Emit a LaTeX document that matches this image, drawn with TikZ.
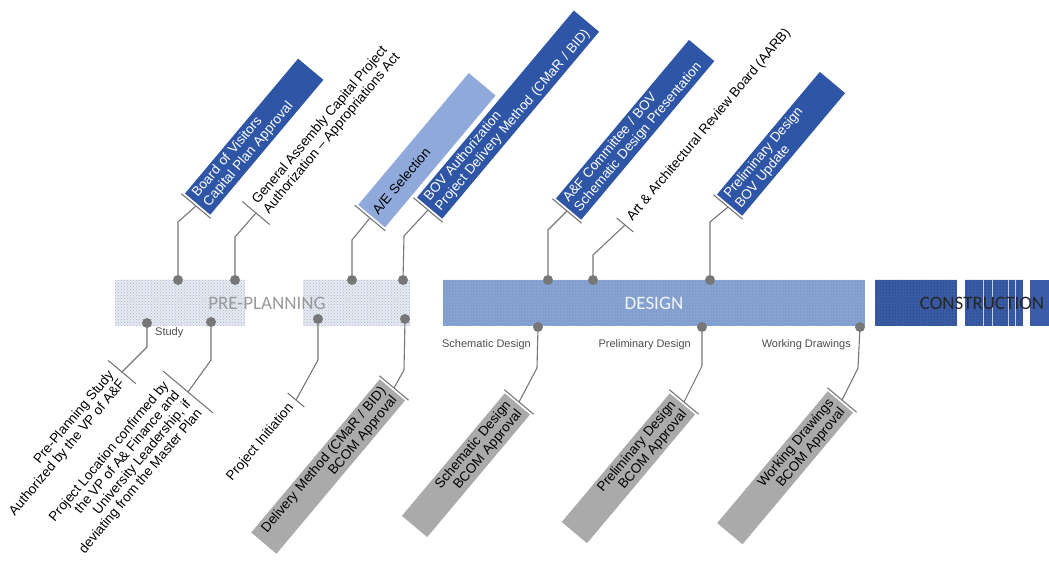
\documentclass[tikz,border=0pt]{standalone}
\usepackage{fontspec}
\setmainfont{Liberation Sans}
\newfontfamily\phasefont{Carlito}
\usetikzlibrary{patterns}
\definecolor{bovblue}{HTML}{2F56A6}
\definecolor{aeblue}{HTML}{8FAADA}
\definecolor{designblue}{HTML}{7F9DCE}
\definecolor{conblue}{HTML}{3B5DA9}
\definecolor{preblue}{HTML}{E6EAF2}
\definecolor{predots}{HTML}{A9B4C8}
\definecolor{bcomgrey}{HTML}{AAAAAA}
\definecolor{wiregrey}{HTML}{777777}

\begin{document}
\begin{tikzpicture}[x=1pt,y=1pt,
  wire/.style={wiregrey, line width=1.1pt},
  pin/.style={circle, fill=wiregrey, inner sep=0pt, minimum size=10pt},
  phasebar/.style={inner sep=0pt, minimum height=46pt},
  prebar/.style={phasebar, fill=preblue, postaction={pattern=crosshatch dots, pattern color=predots}},
  designbar/.style={phasebar, fill=designblue, postaction={pattern=crosshatch dots, pattern color=designblue!75!white}},
  conbar/.style={phasebar, fill=conblue, postaction={pattern=crosshatch dots, pattern color=conblue!70!black}},
  phasename/.style={font=\phasefont\fontsize{19}{19}\selectfont},
  upnote/.style={rotate=50, anchor=west, align=left, outer sep=2.5pt, inner xsep=5pt, inner ysep=2pt},
  downnote/.style={rotate=50, anchor=east, align=right, outer sep=2.5pt, inner xsep=5pt, inner ysep=2pt},
  bovbox/.style={upnote, fill=bovblue, text=white, minimum height=33pt},
  bcombox/.style={downnote, fill=bcomgrey, minimum height=33pt},
  steplabel/.style={font=\fontsize{11}{13}\selectfont, text=black!70, inner sep=0pt}]
\tikzstyle{every node}=[font=\fontsize{13.5}{14.5}\selectfont]
\useasboundingbox (0,0) rectangle (1049,576);

\node[prebar, minimum width=130pt] (pre1) at (180,273) {};
\node[prebar, minimum width=107pt] (pre2) at (356.5,273) {};
\node[phasename, text=black!40] (preplan) at (267,273) {PRE-PLANNING};
\node[designbar, minimum width=422pt] (design) at (654,273) {};
\node[phasename, text=white!90!designblue] (designname) at (design) {DESIGN};
\node[conbar, minimum width=82pt] (con1) at (916,273) {};
\node[conbar, minimum width=58pt] (con2) at (994,273) {};
\node[phasebar, fill=conblue, minimum width=19pt] (con3) at (1039.5,273) {};
\draw[white!70!conblue, line width=0.6pt] (983,250) -- (983,296) (992,250) -- (992,296) (1008,250) -- (1008,296) (1015,250) -- (1015,296);
\node[phasename, text=black!85] (conname) at (982,273) {CONSTRUCTION};

\node[pin] (p1) at (178,296) {};
\coordinate (p1k) at (178,354);
\node[bovbox, text width=166pt] (n1) at (196,370) {Board of Visitors\\Capital Plan Approval};
\draw[wire] (p1) -- (p1k) -- (n1.west);
\draw[wire] (n1.north west) -- (n1.south west);

\node[pin] (p2) at (235,296) {};
\coordinate (p2k) at (235,339);
\node[upnote] (n2) at (256,363) {General Assembly Capital Project\\Authorization -- Appropriations Act};
\draw[wire] (p2) -- (p2k) -- (n2.west);
\draw[wire] (n2.north west) -- (n2.south west);

\node[pin] (p3) at (352,296) {};
\coordinate (p3k) at (352,336);
\node[upnote, fill=aeblue, minimum height=35pt, text width=162pt] (n3) at (370,358) {A/E Selection};
\draw[wire] (p3) -- (p3k) -- (n3.west);
\draw[wire] (n3.north west) -- (n3.south west);

\node[pin] (p4) at (403,296) {};
\coordinate (p4k) at (404,340);
\node[bovbox, text width=234pt] (n4) at (428,366) {BOV Authorization\\Project Delivery Method (CMaR / BID)};
\draw[wire] (p4) -- (p4k) -- (n4.west);
\draw[wire] (n4.north west) -- (n4.south west);

\node[pin] (p5) at (548,296) {};
\coordinate (p5k) at (548,346);
\node[bovbox, text width=197pt] (n5) at (567,365) {A\&F Committee / BOV\\Schematic Design Presentation};
\draw[wire] (p5) -- (p5k) -- (n5.west);
\draw[wire] (n5.north west) -- (n5.south west);

\node[pin] (p6) at (593,296) {};
\coordinate (p6k) at (593,321);
\node[upnote] (n6) at (625,351) {Art \& Architectural Review Board (AARB)};
\draw[wire] (p6) -- (p6k) -- (n6.west);
\draw[wire] (n6.north west) -- (n6.south west);

\node[pin] (p7) at (710,296) {};
\coordinate (p7k) at (710,354);
\node[bovbox, text width=150pt] (n7) at (728,369) {Preliminary Design\\BOV Update};
\draw[wire] (p7) -- (p7k) -- (n7.west);
\draw[wire] (n7.north west) -- (n7.south west);

\node[pin] (q1) at (147,253) {};
\coordinate (q1k) at (147,229);
\node[downnote] (s1) at (122,204) {Pre-Planning Study\\Authorized by the VP of A\&F};
\draw[wire] (q1) -- (q1k) -- (s1.east);
\draw[wire] (s1.north east) -- (s1.south east);
\node[steplabel, anchor=west] (study) at (155,243) {Study};

\node[pin] (q2) at (211,254) {};
\coordinate (q2k) at (211,216);
\node[downnote] (s2) at (188,184) {Project Location confirmed by\\the VP of A\& Finance and\\University Leadership, if\\deviating from the Master Plan};
\draw[wire] (q2) -- (q2k) -- (s2.east);
\draw[wire] (s2.north east) -- (s2.south east);

\node[pin] (q3) at (318,257) {};
\coordinate (q3k) at (318,216);
\node[downnote] (s3) at (296,176) {Project Initiation};
\draw[wire] (q3) -- (q3k) -- (s3.east);
\draw[wire] (s3.north east) -- (s3.south east);

\node[pin] (q4) at (405,257) {};
\coordinate (q4k) at (404,206);
\node[bcombox, text width=190pt] (s4) at (394,188) {Delivery Method (CMaR / BID)\\BCOM Approval};
\draw[wire] (q4) -- (q4k) -- (s4.east);
\draw[wire] (s4.north east) -- (s4.south east);

\node[pin] (q5) at (538,249) {};
\coordinate (q5k) at (537,208);
\node[bcombox, text width=150pt] (s5) at (519,174) {Schematic Design\\BCOM Approval};
\draw[wire] (q5) -- (q5k) -- (s5.east);
\draw[wire] (s5.north east) -- (s5.south east);
\node[steplabel, anchor=east] (schem) at (531,231) {Schematic Design};

\node[pin] (q6) at (702,249) {};
\coordinate (q6k) at (702,210);
\node[bcombox, text width=158pt] (s6) at (684,174) {Preliminary Design\\BCOM Approval};
\draw[wire] (q6) -- (q6k) -- (s6.east);
\draw[wire] (s6.north east) -- (s6.south east);
\node[steplabel, anchor=east] (prelim) at (691,231) {Preliminary Design};

\node[pin] (q7) at (860,249) {};
\coordinate (q7k) at (858,208);
\node[bcombox, text width=162pt] (s7) at (842,176) {Working Drawings\\BCOM Approval};
\draw[wire] (q7) -- (q7k) -- (s7.east);
\draw[wire] (s7.north east) -- (s7.south east);
\node[steplabel, anchor=east] (working) at (851,231) {Working Drawings};
\end{tikzpicture}
\end{document}
